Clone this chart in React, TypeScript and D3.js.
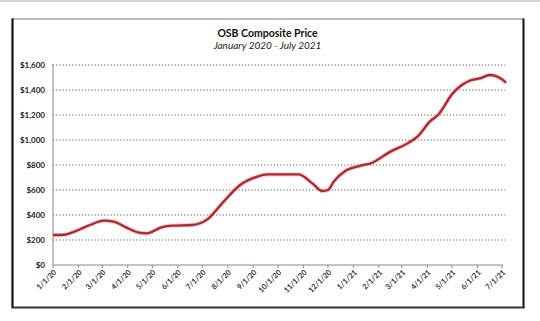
import React from "react";
import * as d3 from "d3";

const W = 540;
const H = 321;

const title = "OSB Composite Price";
const subtitle = "January 2020 - July 2021";

// price observations (date, USD per MSF)
const dates = [
  "2020-01-01", "2020-01-03", "2020-01-15", "2020-01-27", "2020-02-15", "2020-03-03",
  "2020-03-15", "2020-03-30", "2020-04-15", "2020-04-24", "2020-05-12", "2020-05-25",
  "2020-06-18", "2020-07-07", "2020-07-25", "2020-08-16", "2020-09-06", "2020-09-18",
  "2020-10-16", "2020-10-26", "2020-11-12", "2020-11-24", "2020-12-01", "2020-12-08",
  "2020-12-22", "2021-01-10", "2021-01-22", "2021-02-15", "2021-03-08", "2021-03-20",
  "2021-04-04", "2021-04-14", "2021-05-02", "2021-05-13", "2021-05-25", "2021-06-04",
  "2021-06-16", "2021-06-22", "2021-07-01", "2021-07-06",
];
const prices = [
  240, 240, 242, 267, 320, 355,
  347, 301, 259, 253, 301, 315,
  320, 365, 493, 640, 707, 725,
  725, 725, 653, 592, 600, 667,
  752, 795, 813, 907, 973, 1027,
  1147, 1200, 1373, 1440, 1480, 1493,
  1520, 1515, 1485, 1458,
];

const yTicks = [0, 200, 400, 600, 800, 1000, 1200, 1400, 1600];
const xTickLabels = [
  "1/1/20", "2/1/20", "3/1/20", "4/1/20", "5/1/20", "6/1/20", "7/1/20", "8/1/20",
  "9/1/20", "10/1/20", "11/1/20", "12/1/20", "1/1/21", "2/1/21", "3/1/21", "4/1/21",
  "5/1/21", "6/1/21", "7/1/21",
];

const parse = d3.timeParse("%Y-%m-%d");
const parseTick = d3.timeParse("%m/%d/%y");

export default function App() {
  const left = 53;
  const right = 502;
  const top = 65;
  const bottom = 265;

  const x = d3
    .scaleTime()
    .domain([parse("2020-01-01") as Date, parse("2021-07-01") as Date])
    .range([left, right]);
  const y = d3.scaleLinear().domain([0, 1600]).range([bottom, top]);

  const data = dates.map((d, i) => ({ date: parse(d) as Date, v: prices[i] }));
  const line = d3
    .line<{ date: Date; v: number }>()
    .x((d) => x(d.date))
    .y((d) => y(d.v))
    .curve(d3.curveMonotoneX);
  const path = line(data) || "";

  const font = "Lato, 'Open Sans', sans-serif";

  return (
    <svg
      width={W}
      height={H}
      style={{ position: "absolute", left: 0, top: 0, background: "#fff" }}
    >
      <rect x={0} y={0} width={W} height={H} fill="#fff" />
      <rect x={0} y={0} width={W} height={2} fill="#d4d4d4" />
      {/* frame */}
      <line x1={12} y1={19} x2={524} y2={19} stroke="#777" strokeWidth={1.2} />
      <line x1={12.5} y1={18.5} x2={12.5} y2={308} stroke="#111" strokeWidth={2.2} />
      <line x1={523.5} y1={18.5} x2={523.5} y2={308} stroke="#111" strokeWidth={2} />
      <line x1={11.5} y1={307.5} x2={524.5} y2={307.5} stroke="#333" strokeWidth={2} />

      {/* titles */}
      <text
        x={267.5}
        y={37}
        textAnchor="middle"
        fontFamily={font}
        fontWeight={700}
        fontSize={10.5}
        fill="#111"
      >
        {title}
      </text>
      <text
        x={267.5}
        y={49}
        textAnchor="middle"
        fontFamily={font}
        fontStyle="italic"
        fontSize={10}
        fill="#222"
      >
        {subtitle}
      </text>

      {/* gridlines */}
      {yTicks
        .filter((t) => t > 0)
        .map((t) => (
          <line
            key={t}
            x1={left}
            x2={505}
            y1={y(t)}
            y2={y(t)}
            stroke="#999"
            strokeWidth={1.3}
            strokeDasharray="1.3,1.9"
          />
        ))}
      {/* y labels */}
      {yTicks.map((t) => (
        <text
          key={t}
          x={45}
          y={y(t)}
          dy="0.35em"
          textAnchor="end"
          fontFamily={font}
          fontWeight={700}
          fontSize={8}
          fill="#222"
        >
          {d3.format("$,")(t)}
        </text>
      ))}

      {/* axes */}
      <line x1={left} x2={left} y1={top} y2={bottom} stroke="#888" strokeWidth={1} />
      <line x1={left - 1} x2={left} y1={top} y2={top} stroke="#888" strokeWidth={1} />
      <line x1={left} x2={503} y1={bottom} y2={bottom} stroke="#888" strokeWidth={1} />
      {xTickLabels.map((lab) => {
        const px = x(parseTick(lab) as Date);
        return (
          <g key={lab}>
            <line x1={px} x2={px} y1={bottom} y2={bottom + 3} stroke="#888" strokeWidth={1} />
            <text
              transform={`translate(${px + 2},${bottom + 6}) rotate(-45)`}
              textAnchor="end"
              dy="0.35em"
              fontFamily={font}
              fontWeight={700}
              fontSize={7.5}
              fill="#333"
            >
              {lab}
            </text>
          </g>
        );
      })}

      {/* series */}
      <path d={path} fill="none" stroke="#e8a9ab" strokeOpacity={0.6} strokeWidth={4.2} strokeLinejoin="round" />
      <path d={path} fill="none" stroke="#b0292f" strokeWidth={2.3} strokeLinejoin="round" />
    </svg>
  );
}
